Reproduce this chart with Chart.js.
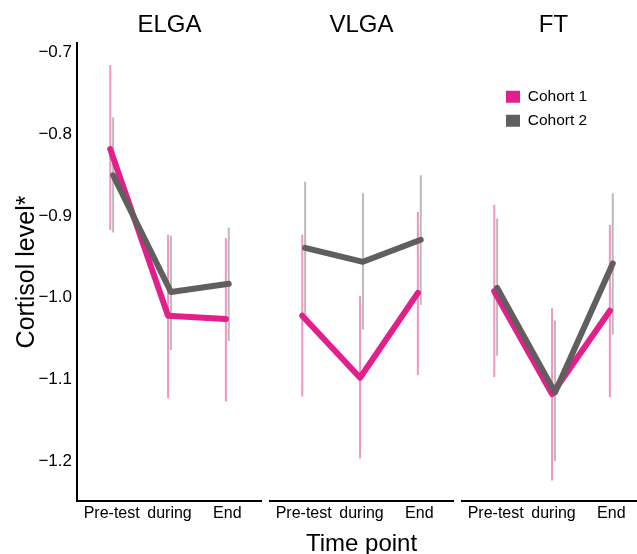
<!DOCTYPE html>
<html>
<head>
<meta charset="utf-8">
<script src="https://cdn.jsdelivr.net/npm/chart.js@4"></script>
<style>
  html, body { margin: 0; padding: 0; background: #fff; }
  #wrap { position: relative; width: 637px; height: 554px; overflow: hidden; background: #fff; }
  canvas { position: absolute; top: 0; }
</style>
</head>
<body>
<div id="wrap">
  <canvas id="c0" width="262" height="560" style="left:0px"></canvas>
  <canvas id="c1" width="185" height="560" style="left:269px"></canvas>
  <canvas id="c2" width="185" height="560" style="left:461px"></canvas>
</div>
<script>
// ---- data ----
const panels = ['ELGA', 'VLGA', 'FT'];
const categories = ['Pre-test', 'during', 'End'];
const seriesNames = ['Cohort 1', 'Cohort 2'];

// one row per panel (ELGA, VLGA, FT), one value per time point
const cohort1Mean = [[-0.818, -1.022, -1.026], [-1.022, -1.098, -0.994], [-0.992, -1.118, -1.016]];
const cohort1Low  = [[-0.917, -1.123, -1.127], [-1.121, -1.197, -1.095], [-1.097, -1.224, -1.122]];
const cohort1High = [[-0.715, -0.923, -0.927], [-0.923, -0.998, -0.895], [-0.886, -1.013, -0.911]];

const cohort2Mean = [[-0.850, -0.993, -0.983], [-0.939, -0.956, -0.929], [-0.988, -1.116, -0.958]];
const cohort2Low  = [[-0.920, -1.064, -1.053], [-1.021, -1.039, -1.009], [-1.071, -1.200, -1.045]];
const cohort2High = [[-0.779, -0.924, -0.914], [-0.858, -0.872, -0.850], [-0.903, -1.028, -0.872]];

const yTickValues = [-1.2, -1.1, -1.0, -0.9, -0.8, -0.7];
const yTickLabels = ['\u22121.2', '\u22121.1', '\u22121.0', '\u22120.9', '\u22120.8', '\u22120.7'];
const xTickValues = [1, 2, 3];

// ---- styling ----
Chart.defaults.font.family = "'Liberation Sans', Arial, sans-serif";
Chart.defaults.color = '#000';
const PINK = '#e21f8a';
const GREY = '#625e5e';
const PINK_BAR = '#f196c3';
const GREY_BAR = '#bababa';
const DODGE = 0.025;

function linePoints(means, offset) {
  return means.map((v, i) => ({ x: xTickValues[i] + offset, y: v }));
}
function barPoints(lows, highs, offset) {
  const pts = [];
  lows.forEach((lo, i) => {
    const x = xTickValues[i] + offset;
    pts.push({ x: x, y: lo });
    pts.push({ x: x, y: highs[i] });
    pts.push({ x: x, y: null });
  });
  return pts;
}

const legendPos = {
  id: 'legendPos',
  afterLayout(chart) {
    const lg = chart.legend;
    if (lg && lg.options.display) {
      lg.left = 36.5; lg.top = 80.5; lg.right = 185; lg.bottom = 400;
    }
  }
};

function makeChart(p) {
  const ctx = document.getElementById('c' + p);
  const first = p === 0;
  const datasets = [
    { label: seriesNames[0], data: linePoints(cohort1Mean[p], -DODGE), borderColor: PINK, backgroundColor: PINK,
      borderWidth: 6, pointRadius: 0, borderCapStyle: 'round', borderJoinStyle: 'round', order: 1 },
    { label: seriesNames[1], data: linePoints(cohort2Mean[p], DODGE), borderColor: GREY, backgroundColor: GREY,
      borderWidth: 6, pointRadius: 0, borderCapStyle: 'round', borderJoinStyle: 'round', order: 0 },
    { label: 'err1', data: barPoints(cohort1Low[p], cohort1High[p], -DODGE), borderColor: PINK_BAR,
      borderWidth: 2, pointRadius: 0, spanGaps: false, order: 3 },
    { label: 'err2', data: barPoints(cohort2Low[p], cohort2High[p], DODGE), borderColor: GREY_BAR,
      borderWidth: 2, pointRadius: 0, spanGaps: false, order: 2 }
  ];
  return new Chart(ctx, {
    type: 'line',
    data: { datasets },
    plugins: [legendPos],
    options: {
      responsive: false,
      animation: false,
      events: [],
      layout: { padding: 0 },
      plugins: {
        tooltip: { enabled: false },
        title: {
          display: true, text: panels[p], fullSize: false,
          font: { size: 24, weight: 'normal' }, color: '#000',
          padding: { top: 10.6, bottom: 3.6 }
        },
        legend: {
          display: p === 2,
          position: 'chartArea',
          align: 'start',
          labels: {
            boxWidth: 14, boxHeight: 12, padding: 8.5,
            font: { size: 15.5 }, color: '#000',
            sort: (a, b) => a.datasetIndex - b.datasetIndex,
            generateLabels: (chart) => Chart.defaults.plugins.legend.labels.generateLabels(chart)
              .filter(it => it.datasetIndex < 2)
              .map(it => Object.assign(it, { lineWidth: 0, fillStyle: it.strokeStyle }))
          }
        }
      },
      scales: {
        x: {
          type: 'linear', min: 0.4, max: 3.6,
          afterBuildTicks: (s) => { s.ticks = xTickValues.map(v => ({ value: v })); },
          ticks: { callback: (v, i) => categories[i], font: { size: 16 }, color: '#000', padding: 3,
                   maxRotation: 0, autoSkip: false },
          grid: { display: false, drawTicks: false },
          border: { display: true, color: '#000', width: 2 },
          title: { display: true, text: p === 1 ? 'Time point' : ' ', font: { size: 24 }, color: '#000',
                   padding: { top: 3.4, bottom: 1.6 } }
        },
        y: {
          type: 'linear', min: -1.249, max: -0.688,
          display: first,
          afterBuildTicks: (s) => { s.ticks = yTickValues.map(v => ({ value: v })); },
          afterFit: (s) => { s.width = first ? 77 : 0; },
          ticks: { callback: (v, i) => yTickLabels[i], font: { size: 17 }, color: '#000', padding: 5 },
          grid: { display: false, drawTicks: false },
          border: { display: true, color: '#000', width: 2 },
          title: { display: true, text: 'Cortisol level*', font: { size: 25 }, color: '#000',
                   padding: { top: 12, bottom: 0 } }
        }
      }
    }
  });
}
panels.forEach((_, p) => makeChart(p));
</script>
</body>
</html>
